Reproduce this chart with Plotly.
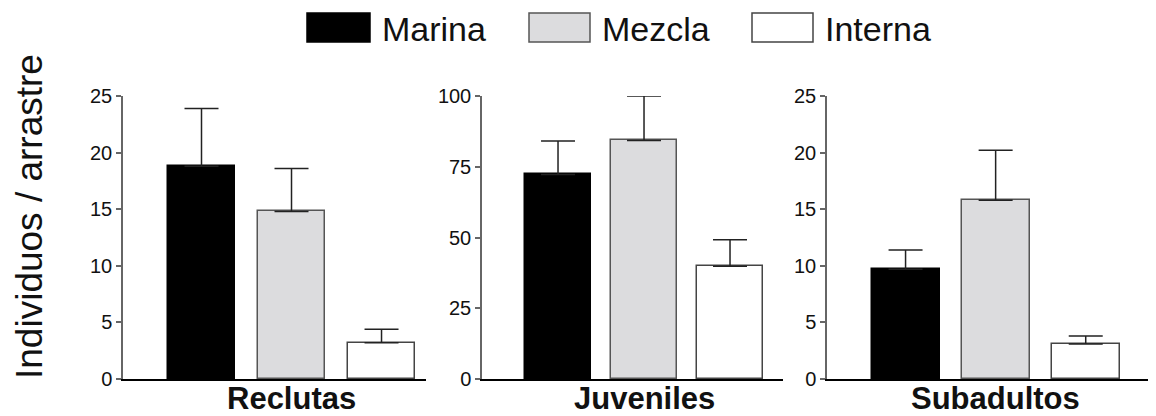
import plotly.graph_objects as go

# ---- data ----
stages = ["Reclutas", "Juveniles", "Subadultos"]
series = ["Marina", "Mezcla", "Interna"]
means = {
    "Reclutas":   [18.8, 14.8, 3.2],
    "Juveniles":  [72.3, 84.3, 39.8],
    "Subadultos": [9.7, 15.8, 3.1],
}
errors = {
    "Reclutas":   [5.1, 3.8, 1.2],
    "Juveniles":  [11.8, 15.7, 9.4],
    "Subadultos": [1.7, 4.4, 0.7],
}
y_max = {"Reclutas": 25, "Juveniles": 100, "Subadultos": 25}
y_dtick = {"Reclutas": 5, "Juveniles": 25, "Subadultos": 5}
y_title = "Individuos / arrastre"

# ---- styles ----
PAGE_W, PAGE_H = 1156, 416
OFF = 8  # browser body margin
W, H = PAGE_W - OFF, PAGE_H - OFF
fills = ["#000000", "#dcdcde", "#ffffff"]
outlines = ["#000000", "#555555", "#444444"]
FONT = "Liberation Sans, Arial, sans-serif"


def px_x(x):
    return (x - OFF) / W


def px_y(y):
    return (H - (y - OFF)) / H


# pixel layout of each panel (page px): (left, right, x-range, bar width)
panels = [
    (123, 426, [-0.872, 2.494], 0.744),
    (482, 783, [-0.884, 2.616], 0.767),
    (827, 1156, [-0.872, 2.78], 0.756),
]
y_top_px, y_bot_px = 96, 379

fig = go.Figure()
for p, stage in enumerate(stages):
    xa = "x" if p == 0 else f"x{p+1}"
    ya = "y" if p == 0 else f"y{p+1}"
    for s, name in enumerate(series):
        fig.add_trace(go.Bar(
            x=[s], y=[means[stage][s]], name=name, showlegend=False,
            width=panels[p][3],
            marker=dict(color=fills[s], line=dict(color=outlines[s], width=1.5)),
            error_y=dict(type="data", symmetric=False, array=[errors[stage][s]],
                         arrayminus=[0], color="#222222", thickness=1.5, width=17),
            xaxis=xa, yaxis=ya,
        ))

layout = dict(
    template="none",
    width=W, height=H, autosize=False,
    margin=dict(l=0, r=0, t=0, b=0, pad=0, autoexpand=False),
    paper_bgcolor="white", plot_bgcolor="white",
    font=dict(family=FONT, color="#111111"),
    bargap=0, showlegend=False,
)
ydom = [px_y(y_bot_px), px_y(y_top_px)]
for p, stage in enumerate(stages):
    left, right, xr, _ = panels[p]
    sfx = "" if p == 0 else str(p + 1)
    layout["xaxis" + sfx] = dict(
        domain=[px_x(left), min(1.0, px_x(right))], range=xr, showgrid=False,
        zeroline=False, showticklabels=False, ticks="", showline=True,
        linecolor="#000000", linewidth=1.5, anchor="y" + sfx, fixedrange=True,
        automargin=False,
    )
    layout["yaxis" + sfx] = dict(
        domain=ydom, range=[0, y_max[stage]], dtick=y_dtick[stage], tick0=0,
        showgrid=False, zeroline=False, showline=True, linecolor="#666666",
        linewidth=1.5, ticks="outside", ticklen=5, tickwidth=1.5, tickcolor="#666666",
        tickfont=dict(size=20, family=FONT, color="#111111"),
        anchor="x" + sfx, fixedrange=True, automargin=False,
    )
fig.update_layout(**layout)

annotations = []
shapes = []
# category labels under each panel
for p, stage in enumerate(stages):
    sfx = "" if p == 0 else str(p + 1)
    annotations.append(dict(
        x=1, xref="x" + sfx, y=px_y(398), yref="paper", text=f"<b>{stage}</b>",
        showarrow=False, xanchor="center", yanchor="middle",
        font=dict(size=31, family=FONT, color="#111111"),
    ))
# y-axis title
annotations.append(dict(
    x=px_x(30), xref="paper", y=px_y(217), yref="paper", text=y_title,
    textangle=-90, showarrow=False, xanchor="center", yanchor="middle",
    font=dict(size=37, family=FONT, color="#111111"),
))
# legend
legend_boxes = [(307, 370), (529, 590), (752, 813)]
for s, name in enumerate(series):
    x0, x1 = legend_boxes[s]
    shapes.append(dict(
        type="rect", xref="paper", yref="paper",
        x0=px_x(x0), x1=px_x(x1), y0=px_y(42), y1=px_y(13),
        fillcolor=fills[s], line=dict(color=outlines[s], width=1.5),
    ))
    annotations.append(dict(
        x=px_x(x1 + 10), xref="paper", y=px_y(29), yref="paper", text=name,
        showarrow=False, xanchor="left", yanchor="middle",
        font=dict(size=34, family=FONT, color="#111111"),
    ))
fig.update_layout(annotations=annotations, shapes=shapes)

fig.write_html("out.html", config={"responsive": False, "displayModeBar": False})
